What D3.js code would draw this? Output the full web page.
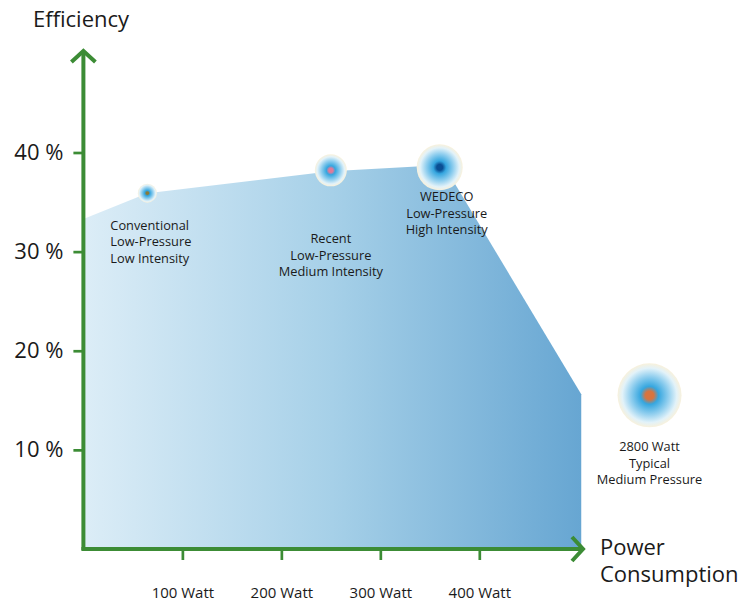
<!DOCTYPE html>
<html>
<head>
<meta charset="utf-8">
<script src="https://cdn.jsdelivr.net/npm/d3@7"></script>
<style>
    body { margin: 0; background: #fff; }
    text { font-family: "Open Sans", "Noto Sans", sans-serif; fill: #1a1a1a; }
</style>
</head>
<body>
<div id="chart"></div>
<script>
// tick values
var yTicks = [10, 20, 30, 40];
var xTicks = [100, 200, 300, 400];

// outline of the efficiency area (watt, efficiency %)
var areaWatt = [0, 64.6, 250, 364, 503, 503, 0];
var areaEff = [33.3, 35.9, 38.1, 38.75, 15.6, 0, 0];

// lamp types
var lampNames = [
    ["Conventional", "Low-Pressure", "Low Intensity"],
    ["Recent", "Low-Pressure", "Medium Intensity"],
    ["WEDECO", "Low-Pressure", "High Intensity"],
    ["2800 Watt", "Typical", "Medium Pressure"]
];
var lampWatt = [64.6, 250, 360, 572];   // 2800 Watt is drawn off the scale
var lampEff = [35.9, 38.2, 38.5, 15.5];
var lampPower = [65, 250, 360, 2800];
var lampCore = ["#8a7a3a", "#e07a9a", "#0a4f94", "#d8743f"];

var width = 754, height = 602;
var green = "#3c8c35";

var svg = d3.select("#chart")
    .append("svg")
    .attr("width", width)
    .attr("height", height);

var x = d3.scaleLinear()
    .domain([0, 400])
    .range([83.4, 479.3]);

var y = d3.scaleLinear()
    .domain([0, 40])
    .range([549, 152.5]);

var r = d3.scaleLinear()
    .domain(lampPower)
    .range([9.5, 16, 23, 32]);

var defs = svg.append("defs");

// horizontal gradient for the area
var grad = defs.append("linearGradient")
    .attr("id", "areaGrad")
    .attr("gradientUnits", "userSpaceOnUse")
    .attr("x1", x(0)).attr("x2", x(503))
    .attr("y1", 0).attr("y2", 0);
grad.append("stop").attr("offset", "0%").attr("stop-color", "#dcedf7");
grad.append("stop").attr("offset", "50%").attr("stop-color", "#a6d0e8");
grad.append("stop").attr("offset", "100%").attr("stop-color", "#67a6d2");

// radial gradients for the lamp bubbles
lampCore.forEach(function (c, i) {
    var g = defs.append("radialGradient").attr("id", "bub" + i);
    g.append("stop").attr("offset", "0%").attr("stop-color", c);
    g.append("stop").attr("offset", "13%").attr("stop-color", c);
    g.append("stop").attr("offset", "28%").attr("stop-color", "#35a6df");
    g.append("stop").attr("offset", "60%").attr("stop-color", "#94d0ef");
    g.append("stop").attr("offset", "85%").attr("stop-color", "#e2f2f9");
    g.append("stop").attr("offset", "100%").attr("stop-color", "#f8f1dc");
});

// area
var pts = areaWatt.map(function (w, i) { return [w, areaEff[i]]; });
var areaLine = d3.line()
    .x(function (d) { return x(d[0]); })
    .y(function (d) { return y(d[1]); });
svg.append("path")
    .attr("fill", "url(#areaGrad)")
    .attr("d", areaLine(pts) + "Z");

// Y axis
var yAxis = svg.append("g")
    .attr("transform", "translate(" + x(0) + ",0)")
    .call(d3.axisLeft(y)
        .tickValues(yTicks)
        .tickSize(10)
        .tickPadding(10)
        .tickFormat(function (d) { return d + " %"; }));
yAxis.select(".domain").remove();
yAxis.selectAll("line").attr("stroke", green).attr("stroke-width", 2.7);
yAxis.selectAll("text")
    .style("font-size", "22px")
    .attr("fill", "#1a1a1a");

// X axis
var xAxis = svg.append("g")
    .attr("transform", "translate(0," + y(0) + ")")
    .call(d3.axisBottom(x)
        .tickValues(xTicks)
        .tickSize(11)
        .tickPadding(27.5)
        .tickFormat(function (d) { return d + " Watt"; }));
xAxis.select(".domain").remove();
xAxis.selectAll("line").attr("stroke", green).attr("stroke-width", 2.7);
xAxis.selectAll("text")
    .style("font-size", "15px")
    .attr("fill", "#1a1a1a");

// axis lines with open arrow heads
var ax = svg.append("g")
    .attr("fill", "none")
    .attr("stroke", green)
    .attr("stroke-width", 4);
ax.append("path")
    .attr("d", "M" + x(0) + "," + (y(0) + 1) + "V52");
ax.append("path")
    .attr("d", "M" + (x(0) - 12) + ",62L" + x(0) + ",51L" + (x(0) + 12) + ",62");
ax.append("path")
    .attr("d", "M" + (x(0) - 2) + "," + y(0) + "H582");
ax.append("path")
    .attr("d", "M572," + (y(0) - 12) + "L583," + y(0) + "L572," + (y(0) + 12));

// axis titles
svg.append("text")
    .attr("x", 33).attr("y", 27)
    .style("font-size", "22px")
    .text("Efficiency");

svg.append("text")
    .attr("x", 600).attr("y", 555)
    .style("font-size", "22px")
    .selectAll("tspan")
    .data(["Power", "Consumption"])
    .enter()
    .append("tspan")
    .attr("x", 600)
    .attr("dy", function (d, i) { return i ? 27 : 0; })
    .text(function (d) { return d; });

// bubbles
svg.append("g")
    .selectAll("circle")
    .data(lampWatt)
    .enter()
    .append("circle")
    .attr("cx", function (d) { return x(d); })
    .attr("cy", function (d, i) { return y(lampEff[i]); })
    .attr("r", function (d, i) { return r(lampPower[i]); })
    .attr("fill", function (d, i) { return "url(#bub" + i + ")"; });

// bubble labels
var labelPos = [
    { dx: -37, dy: 37, anchor: "start" },
    { dx: 0, dy: 73, anchor: "middle" },
    { dx: 7, dy: 34, anchor: "middle" },
    { dx: 0, dy: 56, anchor: "middle" }
];
lampNames.forEach(function (lines, i) {
    var p = labelPos[i];
    var cx = x(lampWatt[i]) + p.dx;
    svg.append("text")
        .attr("text-anchor", p.anchor)
        .attr("y", y(lampEff[i]) + p.dy)
        .style("font-size", "12.8px")
        .selectAll("tspan")
        .data(lines)
        .enter()
        .append("tspan")
        .attr("x", cx)
        .attr("dy", function (d, j) { return j ? 16.3 : 0; })
        .text(function (d) { return d; });
});
</script>
</body>
</html>
